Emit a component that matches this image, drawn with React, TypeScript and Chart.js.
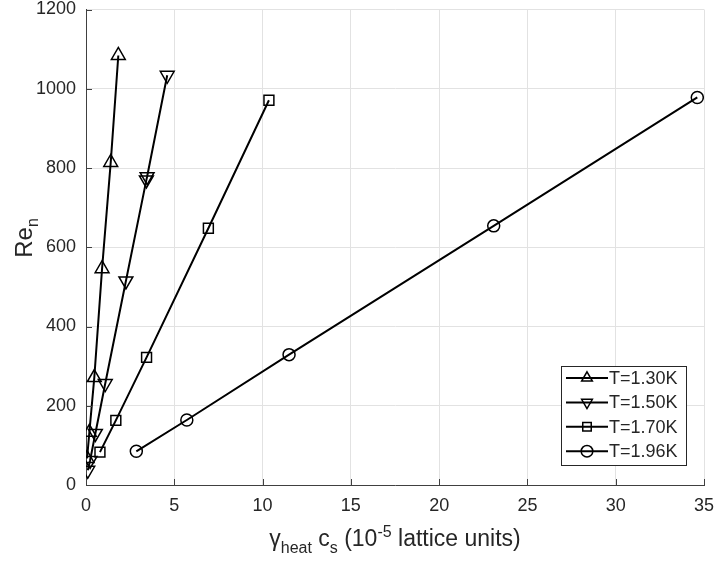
import React, { useEffect, useRef } from 'react';
import { Chart, registerables } from 'chart.js';

Chart.register(...registerables);

const FONT = '"Liberation Sans", Arial, Helvetica, sans-serif';

// Series labels
const seriesLabels = ['T=1.30K', 'T=1.50K', 'T=1.70K', 'T=1.96K'];

// T = 1.30 K (up triangles)
const x130 = [0.06, 0.19, 0.47, 0.91, 1.40, 1.83];
const y130 = [67, 133, 271, 546, 814, 1084];

// T = 1.50 K (down triangles)
const x150 = [0.10, 0.23, 0.53, 1.09, 2.26, 3.42, 3.46, 4.60];
const y150 = [37, 62, 130, 256, 515, 770, 778, 1034];

// T = 1.70 K (squares)
const x170 = [0.79, 1.69, 3.43, 6.93, 10.36];
const y170 = [83, 163, 322, 648, 971];

// T = 1.96 K (circles)
const x196 = [2.85, 5.71, 11.5, 23.09, 34.62];
const y196 = [85, 164, 329, 654, 978];

// Axis ticks
const xTicks = [0, 5, 10, 15, 20, 25, 30, 35];
const yTicks = [0, 200, 400, 600, 800, 1000, 1200];

const pts = (xs: number[], ys: number[]) => xs.map((x, i) => ({ x, y: ys[i] }));

function drawMarker(ctx: CanvasRenderingContext2D, style: string, rot: number, x: number, y: number, r: number) {
  ctx.beginPath();
  if (style === 'circle') {
    ctx.arc(x, y, r, 0, Math.PI * 2);
  } else if (style === 'rect') {
    const s = r * Math.SQRT1_2;
    ctx.rect(x - s, y - s, 2 * s, 2 * s);
  } else {
    let a = (rot * Math.PI) / 180;
    ctx.moveTo(x + Math.sin(a) * r, y - Math.cos(a) * r);
    a += (2 * Math.PI) / 3;
    ctx.lineTo(x + Math.sin(a) * r, y - Math.cos(a) * r);
    a += (2 * Math.PI) / 3;
    ctx.lineTo(x + Math.sin(a) * r, y - Math.cos(a) * r);
    ctx.closePath();
  }
  ctx.stroke();
}

const inwardTicks = {
  id: 'inwardTicks',
  afterDatasetsDraw(chart: any) {
    const { ctx, chartArea, scales } = chart;
    ctx.save();
    ctx.strokeStyle = '#404040';
    ctx.lineWidth = 1;
    ctx.beginPath();
    xTicks.forEach((v) => {
      const px = Math.round(scales.x.getPixelForValue(v)) + 0.5;
      ctx.moveTo(px, chartArea.bottom);
      ctx.lineTo(px, chartArea.bottom - 6);
    });
    yTicks.forEach((v) => {
      const py = Math.round(scales.y.getPixelForValue(v)) + 0.5;
      ctx.moveTo(chartArea.left, py);
      ctx.lineTo(chartArea.left + 6, py);
    });
    ctx.stroke();
    ctx.restore();
  },
};

const titles = {
  id: 'titles',
  afterDraw(chart: any) {
    const { ctx, chartArea } = chart;
    ctx.save();
    ctx.fillStyle = '#262626';
    ctx.textBaseline = 'alphabetic';
    ctx.textAlign = 'left';
    const main = `23px ${FONT}`;
    const small = `16px ${FONT}`;
    // x title
    const segs: [string, string, number][] = [
      ['\u03b3', main, 0],
      ['heat', small, 7],
      [' c', main, 0],
      ['s', small, 7],
      [' (10', main, 0],
      ['-5', small, -9],
      [' lattice units)', main, 0],
    ];
    let total = 0;
    segs.forEach(([t, f]) => {
      ctx.font = f;
      total += ctx.measureText(t).width;
    });
    let cx = (chartArea.left + chartArea.right) / 2 - total / 2;
    const base = 546;
    segs.forEach(([t, f, off]) => {
      ctx.font = f;
      ctx.fillText(t, cx, base + off);
      cx += ctx.measureText(t).width;
    });
    // y title
    const ysegs: [string, string, number][] = [
      ['Re', `24px ${FONT}`, 0],
      ['n', small, 6],
    ];
    let ytot = 0;
    ysegs.forEach(([t, f]) => {
      ctx.font = f;
      ytot += ctx.measureText(t).width;
    });
    ctx.translate(32, 238);
    ctx.rotate(-Math.PI / 2);
    let lx = -ytot / 2;
    ysegs.forEach(([t, f, off]) => {
      ctx.font = f;
      ctx.fillText(t, lx, off);
      lx += ctx.measureText(t).width;
    });
    ctx.restore();
  },
};

const boxLegend = {
  id: 'boxLegend',
  afterDraw(chart: any) {
    const { ctx } = chart;
    const left = 561.5, top = 366.5, w = 125, h = 99;
    ctx.save();
    ctx.fillStyle = '#ffffff';
    ctx.fillRect(left, top, w, h);
    ctx.strokeStyle = '#262626';
    ctx.lineWidth = 1;
    ctx.strokeRect(left, top, w, h);
    ctx.font = `18px ${FONT}`;
    ctx.textBaseline = 'middle';
    ctx.textAlign = 'left';
    chart.data.datasets.forEach((ds: any, i: number) => {
      const y = 378 + i * 24.4;
      ctx.strokeStyle = '#000';
      ctx.lineWidth = 2;
      ctx.beginPath();
      ctx.moveTo(566, y);
      ctx.lineTo(608, y);
      ctx.stroke();
      ctx.lineWidth = 1.5;
      const st = ds.pointStyle;
      const r = st === 'circle' ? 5.8 : st === 'rect' ? 6 : 6.2;
      drawMarker(ctx, st, ds.pointRotation || 0, 587, y, r);
      ctx.fillStyle = '#262626';
      ctx.fillText(ds.label, 609, y + 1);
    });
    ctx.restore();
  },
};

export default function App() {
  const ref = useRef<HTMLCanvasElement | null>(null);

  useEffect(() => {
    document.body.style.margin = '0';
    const canvas = ref.current;
    if (!canvas) return;
    const base = {
      showLine: true,
      borderColor: '#000000',
      borderWidth: 2,
      pointBorderColor: '#000000',
      pointBackgroundColor: 'rgba(0,0,0,0)',
      pointBorderWidth: 1.5,
      tension: 0,
      fill: false,
    };
    const chart = new Chart(canvas, {
      type: 'line',
      data: {
        datasets: [
          { ...base, label: seriesLabels[0], data: pts(x130, y130), pointStyle: 'triangle', pointRadius: 8 },
          { ...base, label: seriesLabels[1], data: pts(x150, y150), pointStyle: 'triangle', pointRotation: 180, pointRadius: 8 },
          { ...base, label: seriesLabels[2], data: pts(x170, y170), pointStyle: 'rect', pointRadius: 7 },
          { ...base, label: seriesLabels[3], data: pts(x196, y196), pointStyle: 'circle', pointRadius: 6 },
        ] as any,
      },
      options: {
        responsive: false,
        animation: false,
        layout: { padding: { left: 0, right: 11, top: 5, bottom: 0 } },
        plugins: { legend: { display: false }, tooltip: { enabled: false } },
        scales: {
          x: {
            type: 'linear',
            min: 0,
            max: 35,
            afterBuildTicks: (s: any) => {
              s.ticks = xTicks.map((v) => ({ value: v }));
            },
            grid: { color: '#e2e2e2', drawTicks: false, lineWidth: 1 },
            border: { display: true, color: '#404040', width: 1 },
            ticks: {
              font: { family: FONT, size: 18 },
              color: '#262626',
              padding: 10,
              maxRotation: 0,
              autoSkip: false,
              callback: (v: any) => String(v),
            },
            afterFit: (s: any) => {
              s.height = 79;
              s.paddingLeft = 0;
              s.paddingRight = 0;
            },
          },
          y: {
            type: 'linear',
            min: 0,
            max: 1200,
            afterBuildTicks: (s: any) => {
              s.ticks = yTicks.map((v) => ({ value: v }));
            },
            grid: { color: '#e2e2e2', drawTicks: false, lineWidth: 1 },
            border: { display: true, color: '#404040', width: 1 },
            ticks: {
              font: { family: FONT, size: 18 },
              color: '#262626',
              padding: 10,
              autoSkip: false,
              callback: (v: any) => String(v),
            },
            afterFit: (s: any) => {
              s.width = 86;
              s.paddingTop = 0;
              s.paddingBottom = 0;
            },
          },
        },
      } as any,
      plugins: [inwardTicks, titles, boxLegend],
    });
    return () => chart.destroy();
  }, []);

  return (
    <div style={{ width: 715, height: 564 }}>
      <canvas ref={ref} width={715} height={564} style={{ display: 'block' }} />
    </div>
  );
}
